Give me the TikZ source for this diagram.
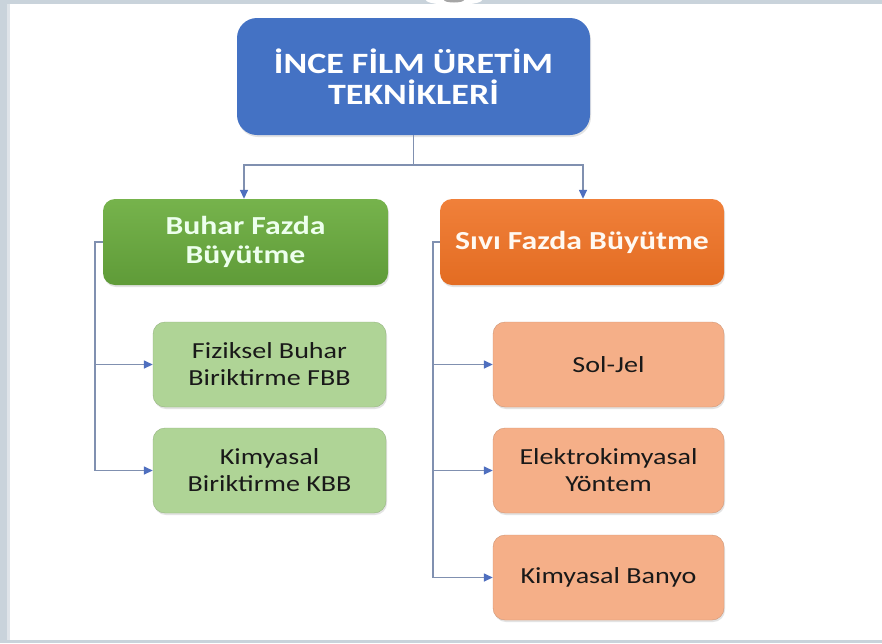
\documentclass[tikz,border=0pt]{standalone}
\usepackage{fontspec}
\setmainfont[FakeStretch=1.22]{Carlito}
\usetikzlibrary{arrows.meta,shadows,calc}
\definecolor{frameg}{HTML}{C9D3DB}
\definecolor{titleblue}{HTML}{4472C4}
\definecolor{grntop}{HTML}{76B34C}
\definecolor{grnbot}{HTML}{5F9B38}
\definecolor{orgtop}{HTML}{F0803A}
\definecolor{orgbot}{HTML}{E36C22}
\definecolor{kidgrn}{HTML}{AFD496}
\definecolor{kidorg}{HTML}{F5AF88}
\definecolor{connc}{HTML}{8090B0}
\definecolor{arrowc}{HTML}{4F6FBF}
\begin{document}
\begin{tikzpicture}[x=1pt,y=-1pt,
  box/.style={rectangle, rounded corners=12pt, align=center, inner sep=0pt,
    drop shadow={opacity=0.22, shadow xshift=1pt, shadow yshift=-2pt}},
  titlebox/.style={box, rounded corners=20pt, fill=titleblue, text=white,
    minimum width=353pt, minimum height=117pt,
    font=\fontsize{29.5}{31}\selectfont\bfseries},
  grnhead/.style={box, top color=grntop, bottom color=grnbot, text=white!93!green,
    minimum width=285pt, minimum height=86pt,
    font=\fontsize{26}{29}\selectfont\bfseries},
  orghead/.style={box, top color=orgtop, bottom color=orgbot, text=white!95!orange,
    minimum width=284pt, minimum height=86pt,
    font=\fontsize{26}{29}\selectfont\bfseries},
  grnkid/.style={box, fill=kidgrn, draw=kidgrn!85!black, line width=0.4pt, text=black!90,
    minimum width=233pt, minimum height=85pt,
    font=\fontsize{23}{27}\selectfont},
  orgkid/.style={box, fill=kidorg, draw=kidorg!85!black, line width=0.4pt, text=black!90,
    minimum width=231pt, minimum height=85pt,
    font=\fontsize{23}{27}\selectfont},
  conn/.style={draw=connc, line width=1.5pt},
  arr/.style={conn, -{Triangle[length=9pt,width=8pt,fill=arrowc,color=arrowc]}}
]
\useasboundingbox (0,0) rectangle (882,643);
\fill[white] (0,0) rectangle (882,643);
% frame bands
\fill[frameg] (0,0) rectangle (882,4);
\fill[frameg] (0,0) rectangle (10,643);
\fill[frameg!60!white] (7,4) rectangle (10,640);
\fill[frameg] (0,640) rectangle (882,643);
\fill[white] (454,0) ellipse [x radius=28pt, y radius=5pt];
\fill[gray!70] (454,0) ellipse [x radius=10pt, y radius=2.5pt];

% nodes
\node[titlebox] (title) at (413.5,76.5) {İNCE FİLM ÜRETİM\\TEKNİKLERİ};
\node[grnhead] (buhar) at (245.5,242) {Buhar Fazda\\Büyütme};
\node[orghead] (sivi) at (582,242) {Sıvı Fazda Büyütme};
\node[grnkid] (fbb) at (269.5,364.5) {Fiziksel Buhar\\Biriktirme FBB};
\node[grnkid] (kbb) at (269.5,470.5) {Kimyasal\\Biriktirme KBB};
\node[orgkid] (soljel) at (608.5,364.5) {Sol-Jel};
\node[orgkid] (elektro) at (608.5,470.5) {Elektrokimyasal\\Yöntem};
\node[orgkid] (banyo) at (608.5,577.5) {Kimyasal Banyo};

% connectors from title
\coordinate (split) at ($(title.south)+(0,30)$);
\draw[conn] (title.south) -- (split);
\draw[arr] (split) -| ([xshift=-1.5pt]buhar.north);
\draw[arr] (split) -| ([xshift=1pt]sivi.north);

% left bus
\draw[arr] (buhar.west) -- ++(-8,0) |- (fbb.west);
\draw[arr] (buhar.west) -- ++(-8,0) |- (kbb.west);
% right bus
\draw[arr] (sivi.west) -- ++(-7,0) |- (soljel.west);
\draw[arr] (sivi.west) -- ++(-7,0) |- (elektro.west);
\draw[arr] (sivi.west) -- ++(-7,0) |- (banyo.west);
\end{tikzpicture}
\end{document}
